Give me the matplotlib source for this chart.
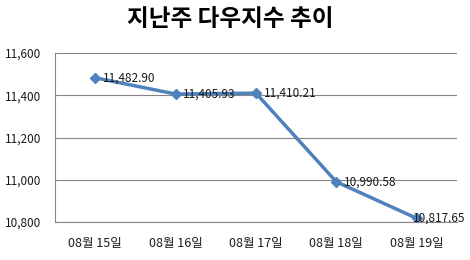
import matplotlib
matplotlib.use("Agg")
import matplotlib.pyplot as plt
from matplotlib.ticker import FuncFormatter

plt.rcParams['font.family'] = ['Noto Sans CJK KR', 'DejaVu Sans']

# data
dates = ["08월 15일", "08월 16일", "08월 17일", "08월 18일", "08월 19일"]
dow = [11482.90, 11405.93, 11410.21, 10990.58, 10817.65]
y_ticks = [10800, 11000, 11200, 11400, 11600]

fig = plt.figure(figsize=(4.7, 2.6), dpi=100)
ax = fig.add_axes([0.117, 0.146, 0.855, 0.65])

x = list(range(len(dates)))
ax.plot(x, dow, color="#4F81BD", linewidth=2.5, marker="D", markersize=5.5, zorder=3)

for xi, v in zip(x, dow):
    # the last label is pushed back inside the figure, like Excel does
    dx = 5.5 if xi < len(dates) - 1 else -3
    ax.annotate(f"{v:,.2f}", (xi, v), xytext=(dx, 0), textcoords="offset points",
                ha="left", va="center", fontsize=8.5, color="#1a1a1a", zorder=4)

ax.set_xlim(-0.5, len(dates) - 0.5)
ax.set_ylim(10800, 11600)
ax.set_yticks(y_ticks)
ax.yaxis.set_major_formatter(FuncFormatter(lambda v, p: f"{int(v):,}"))
ax.set_xticks(x)
ax.set_xticklabels(dates)
ax.tick_params(axis="both", length=0, labelsize=8.5, colors="#1a1a1a")
ax.tick_params(axis="x", labelsize=9, pad=11)
ax.tick_params(axis="y", pad=10)

ax.grid(axis="y", color="#868686", linewidth=0.8)
ax.set_axisbelow(True)
for s in ["top", "right"]:
    ax.spines[s].set_visible(False)
for s in ["left", "bottom"]:
    ax.spines[s].set_color("#868686")
    ax.spines[s].set_linewidth(0.8)

fig.text(0.49, 0.925, "지난주 다우지수 추이", ha="center", va="center",
         fontsize=17, fontweight="bold", color="black")

fig.savefig("out.png", dpi=100)
